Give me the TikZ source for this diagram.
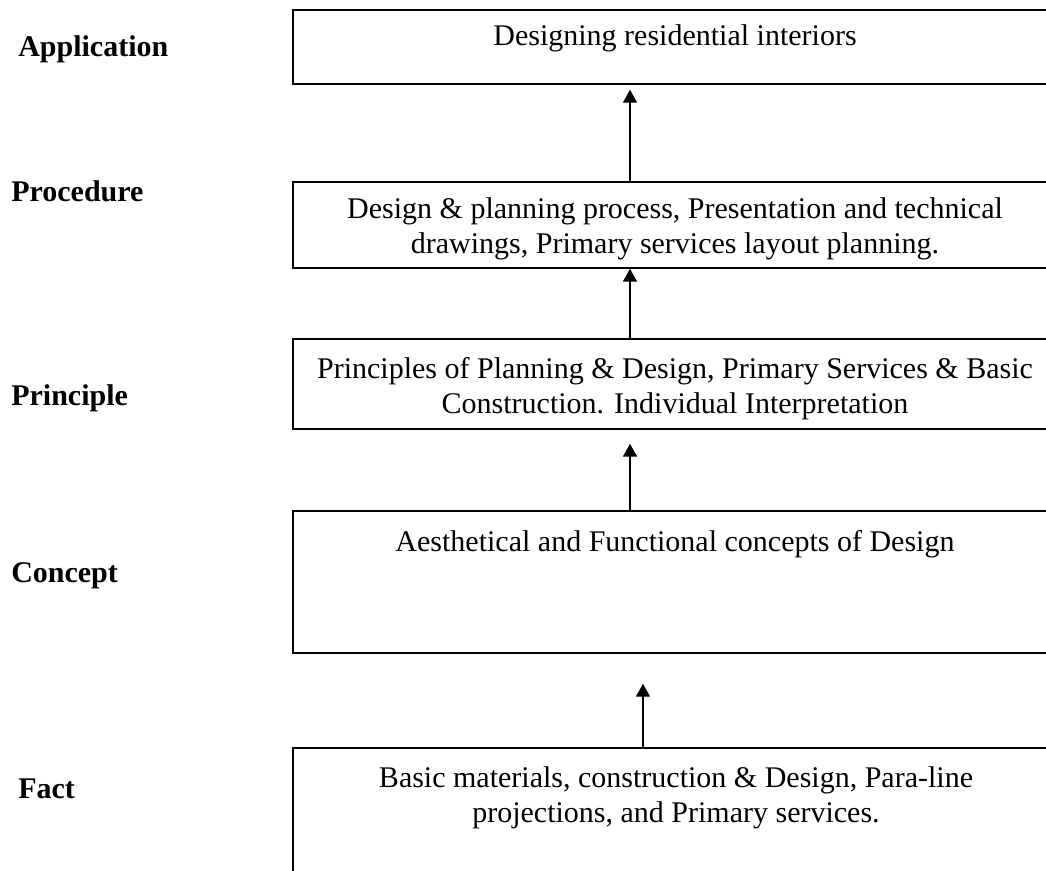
\documentclass[tikz,border=0pt]{standalone}
\usepackage{fontspec}
\setmainfont{Liberation Serif}
\usetikzlibrary{arrows.meta}
\begin{document}
\begin{tikzpicture}[x=0.75pt,y=-0.75pt,
  box/.style={draw, line width=1.3pt, inner sep=0pt, anchor=north west, minimum width=576pt},
  txt/.style={font=\fontsize{22.5pt}{26.25pt}\selectfont, align=center, anchor=base, inner sep=0pt},
  lbl/.style={font=\fontsize{22.5pt}{26.25pt}\selectfont\bfseries, anchor=base west, inner sep=0pt},
  arr/.style={line width=1.2pt, -{Triangle[width=10.5pt,length=9.75pt]}}]
\useasboundingbox (0,0) rectangle (1046,871);
\clip (0,0) rectangle (1046,871);
% boxes
\node[box, minimum height=55.5pt] (b1) at (292,9) {};
\node[box, minimum height=64.5pt] (b2) at (292,181) {};
\node[box, minimum height=67.5pt] (b3) at (292,338) {};
\node[box, minimum height=106.5pt] (b4) at (292,510) {};
\node[box, minimum height=114.75pt] (b5) at (292,747) {};
% box texts (base = baseline of the last line)
\node[txt] (t1) at (675,45) {Designing residential interiors};
\node[txt] (t2) at (675,253) {Design \& planning process, Presentation and technical\\drawings, Primary services layout planning.};
\node[txt] (t3) at (675,413) {Principles of Planning \& Design, Primary Services \& Basic\\Construction. Individual Interpretation};
\node[txt] (t4) at (675,551) {Aesthetical and Functional concepts of Design};
\node[txt] (t5) at (676,822) {Basic materials, construction \& Design, Para-line\\projections, and Primary services.};
% level labels
\node[lbl] (l1) at (18,56) {Application};
\node[lbl] (l2) at (11,201) {Procedure};
\node[lbl] (l3) at (11,405) {Principle};
\node[lbl] (l4) at (11,582) {Concept};
\node[lbl] (l5) at (18,798) {Fact};
% arrows
\coordinate (xa) at (630,0);
\coordinate (xb) at (643,0);
\draw[arr, shorten >=3.75pt] (xa |- b2.north) -- (xa |- b1.south);
\draw[arr] (xa |- b3.north) -- (xa |- b2.south);
\draw[arr, shorten >=10.5pt] (xa |- b4.north) -- (xa |- b3.south);
\draw[arr, shorten >=22.5pt, shorten <=-1pt] (xb |- b5.north) -- (xb |- b4.south);
\end{tikzpicture}
\end{document}
